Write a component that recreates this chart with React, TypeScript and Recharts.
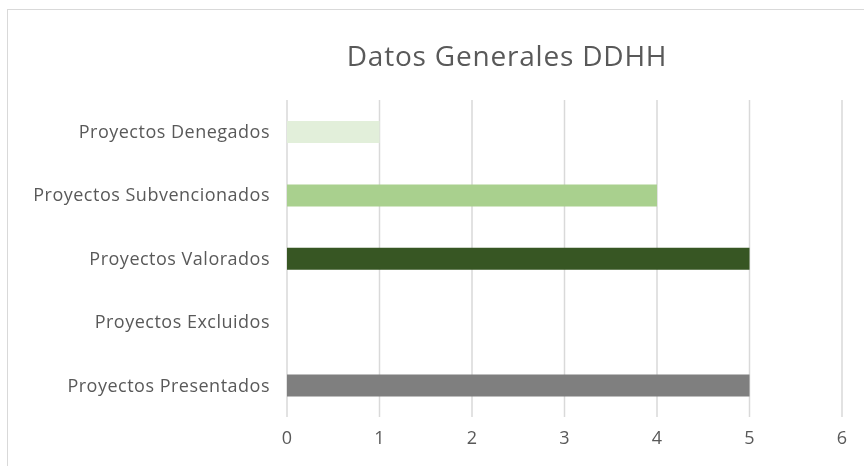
import React from "react";
import { BarChart, Bar, XAxis, YAxis, CartesianGrid, Cell } from "recharts";

const categories = [
  "Proyectos Denegados",
  "Proyectos Subvencionados ",
  "Proyectos Valorados",
  "Proyectos Excluidos",
  "Proyectos Presentados",
];
const values = [1, 4, 5, 0, 5];
const barColors = ["#e2efda", "#a9d08e", "#375623", "#7f7f7f", "#7f7f7f"];
const xTicks = [0, 1, 2, 3, 4, 5, 6];

const data = categories.map((name, i) => ({ name, value: values[i] }));

const font = "'Open Sans', sans-serif";

export default function App() {
  return (
    <div>
      {/* chart frame, right and bottom edges sit off screen */}
      <div
        style={{
          position: "fixed",
          left: 7,
          top: 9,
          width: 900,
          height: 500,
          border: "1px solid #d9d9d9",
          boxSizing: "border-box",
        }}
      />
      <div style={{ position: "fixed", left: 0, top: 0 }}>
        <BarChart
          width={864}
          height={466}
          data={data}
          layout="vertical"
          margin={{ top: 100, right: 22, bottom: 0, left: 0 }}
          barSize={22}
        >
          <text
            x={507}
            y={55}
            textAnchor="middle"
            dominantBaseline="central"
            fontSize={28}
            letterSpacing={0.8}
            fill="#595959"
            fontFamily={font}
          >
            Datos Generales DDHH
          </text>
          <CartesianGrid horizontal={false} stroke="#d9d9d9" strokeWidth={1.5} />
          <XAxis
            type="number"
            domain={[0, 6]}
            ticks={xTicks}
            axisLine={false}
            tickLine={false}
            tickSize={0}
            tickMargin={14}
            height={49}
            tick={{ fill: "#595959", fontSize: 18, fontFamily: font }}
          />
          <YAxis
            type="category"
            dataKey="name"
            width={287}
            axisLine={false}
            tickLine={false}
            tickSize={0}
            tickMargin={17}
            tick={{ fill: "#595959", fontSize: 18, fontFamily: font, letterSpacing: 0.5 }}
          />
          <Bar dataKey="value" isAnimationActive={false}>
            {data.map((d, i) => (
              <Cell key={d.name} fill={barColors[i]} />
            ))}
          </Bar>
        </BarChart>
      </div>
    </div>
  );
}
